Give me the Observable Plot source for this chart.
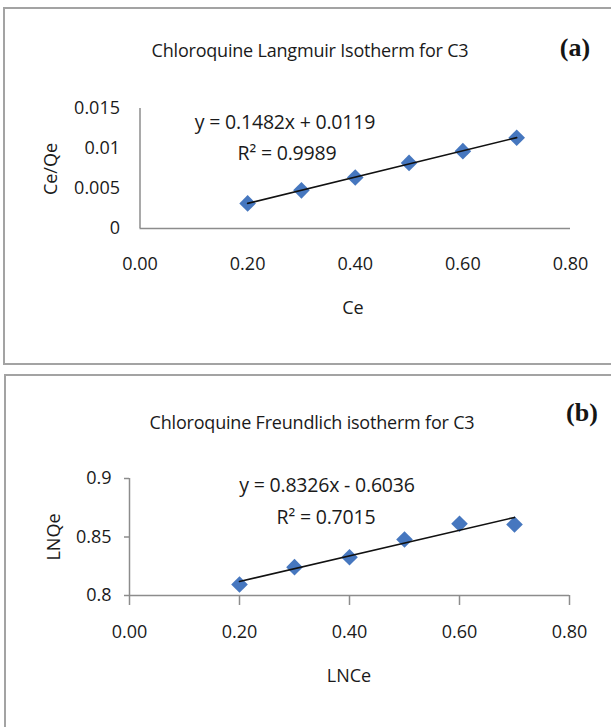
<!DOCTYPE html>
<html><head><meta charset="utf-8">
<script src="https://cdn.jsdelivr.net/npm/d3@7"></script>
<script src="https://cdn.jsdelivr.net/npm/@observablehq/plot@0.6"></script>
<style>
body{margin:0;background:#fff;font-family:"Open Sans",sans-serif;}
#page{position:relative;width:611px;height:727px;overflow:hidden;background:#fff;}
.box{position:absolute;border:2px solid #a3a3a3;box-sizing:border-box;}
.t{position:absolute;white-space:nowrap;transform:translate(-50%,-50%);color:#1a1a1a;line-height:1;}
.title{font-size:18px;letter-spacing:-0.2px;}
.eq{font-size:19.5px;letter-spacing:-0.2px;}
.ax{font-size:18px;}
.tag{font-family:"Liberation Serif",serif;font-weight:bold;font-size:26px;color:#151515;}
.rot{transform:translate(-50%,-50%) rotate(-90deg);}
svg{position:absolute;left:0;}
</style></head>
<body><div id="page">
<div class="box" style="left:3px;top:7px;width:640px;height:358px;"></div>
<div class="box" style="left:4px;top:374px;width:640px;height:400px;"></div>
</div>
<script>
// Panel (a): Langmuir
const ceA = [0.2, 0.3, 0.4, 0.5, 0.6, 0.7];
const ceQeA = [0.00314, 0.00477, 0.00637, 0.0082, 0.00967, 0.01134];
// Panel (b): Freundlich
const lnCeB = [0.2, 0.3, 0.4, 0.5, 0.6, 0.7];
const lnQeB = [0.8094, 0.8242, 0.8327, 0.8479, 0.8613, 0.8607];
// ticks
const xTicks = [0, 0.2, 0.4, 0.6, 0.8];
const yTicksA = [0, 0.005, 0.01, 0.015];
const yTicksB = [0.8, 0.85, 0.9];
// texts
const titleA = "Chloroquine Langmuir Isotherm for C3";
const titleB = "Chloroquine Freundlich isotherm for C3";
const eqA = ["y = 0.1482x + 0.0119", "R² = 0.9989"];
const eqB = ["y = 0.8326x - 0.6036", "R² = 0.7015"];

const page = document.getElementById("page");
const blue = "#4677BF", axisGray = "#8c8c8c";
const font = "'Open Sans', sans-serif";

const rowsA = ceA.map((x, i) => ({x, y: ceQeA[i]}));
const rowsB = lnCeB.map((x, i) => ({x, y: lnQeB[i]}));

const plotA = Plot.plot({
  width: 611, height: 330,
  marginLeft: 139.5, marginRight: 41, marginTop: 108, marginBottom: 102,
  x: {domain: [0, 0.8]}, y: {domain: [0, 0.015]},
  style: {fontFamily: font, fontSize: "18px", background: "transparent", color: "#1a1a1a"},
  marks: [
    Plot.ruleX([0], {stroke: axisGray, strokeWidth: 1.5}),
    Plot.ruleY([0], {stroke: axisGray, strokeWidth: 1.5}),
    Plot.axisX(xTicks, {tickFormat: d3.format(".2f"), tickSize: 0, tickPadding: 29, label: null, fill: "#1a1a1a"}),
    Plot.axisY(yTicksA, {tickFormat: d => String(d), tickSize: 0, tickPadding: 20, label: null, fill: "#1a1a1a"}),
    Plot.dot(rowsA, {x: "x", y: "y", symbol: "diamond2", r: 7.5, fill: blue, stroke: null}),
    Plot.linearRegressionY(rowsA, {x: "x", y: "y", ci: 0, stroke: "#111", strokeWidth: 1.6})
  ]
});
plotA.style.top = "0px";
page.appendChild(plotA);

const plotB = Plot.plot({
  width: 611, height: 328,
  marginLeft: 129, marginRight: 42, marginTop: 111, marginBottom: 100,
  x: {domain: [0, 0.8]}, y: {domain: [0.8, 0.9]},
  style: {fontFamily: font, fontSize: "18px", background: "transparent", color: "#1a1a1a"},
  marks: [
    Plot.ruleX([0], {stroke: axisGray, strokeWidth: 1.5}),
    Plot.ruleY([0.8], {stroke: axisGray, strokeWidth: 1.5}),
    Plot.axisX(xTicks, {tickFormat: d3.format(".2f"), tickSize: 10, tickPadding: 20, label: null, stroke: axisGray, strokeWidth: 1.5, fill: "#1a1a1a"}),
    Plot.axisY(yTicksB, {tickFormat: d => String(d), tickSize: 5, tickPadding: 13, label: null, stroke: axisGray, strokeWidth: 1.5, fill: "#1a1a1a"}),
    Plot.dot(rowsB, {x: "x", y: "y", symbol: "diamond2", r: 7.5, fill: blue, stroke: null}),
    Plot.linearRegressionY(rowsB, {x: "x", y: "y", ci: 0, stroke: "#111", strokeWidth: 1.6})
  ]
});
plotB.style.top = "367px";
page.appendChild(plotB);

function label(text, cls, x, y) {
  const d = document.createElement("div");
  d.className = "t " + cls;
  d.textContent = text;
  d.style.left = x + "px";
  d.style.top = y + "px";
  page.appendChild(d);
}
label(titleA, "title", 310, 50);
label("(a)", "tag", 575, 48);
label(eqA[0], "eq", 285, 122);
label(eqA[1], "eq", 287, 153);
label("Ce", "ax", 353, 307);
label("Ce/Qe", "ax rot", 50, 169);

label(titleB, "title", 312, 422);
label("(b)", "tag", 582, 413);
label(eqB[0], "eq", 327, 485);
label(eqB[1], "eq", 326, 517);
label("LNCe", "ax", 349, 675);
label("LNQe", "ax rot", 53, 537);
</script>
</body></html>
